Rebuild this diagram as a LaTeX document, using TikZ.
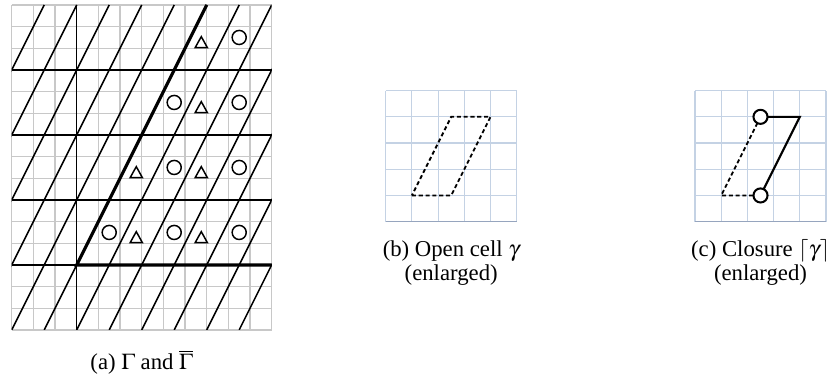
\documentclass[tikz,border=0pt]{standalone}
\usepackage{mathptmx}
\usepackage[no-math]{fontspec}
\setmainfont{Liberation Serif}
\usepackage{xcolor}
\usetikzlibrary{positioning}
\definecolor{latticegray}{RGB}{200,200,200}
\definecolor{paperblue}{RGB}{196,210,228}
\definecolor{paperedge}{RGB}{150,165,190}

\begin{document}
\begin{tikzpicture}[
    gridline/.style={draw=latticegray, line width=0.5pt, step=1},
    blueline/.style={draw=paperblue, line width=0.5pt, step=1},
    blueedge/.style={draw=paperedge, line width=0.6pt},
    cellline/.style={line width=0.65pt},
    boundary/.style={line width=1.4pt},
    marker/.style={line width=0.65pt},
    openedge/.style={line width=0.8pt, dash pattern=on 1.8pt off 1.2pt},
    closededge/.style={line width=0.95pt},
    ringmark/.style={line width=0.9pt, fill=white},
    caption/.style={align=center, anchor=base, inner sep=0pt, font=\fontsize{10}{10.6}\selectfont}
]
    \useasboundingbox (0,0) rectangle (365.2pt,166.3pt);

    % (a) the lattice and its closure
    \begin{scope}[shift={(5.15pt,21.12pt)}, x=9.533pt, y=9.533pt]
        \draw[gridline] (0,0) grid (12,15);
        \begin{scope}
            \clip (0,0) rectangle (12,15);
            \foreach \c in {-6,-4.5,...,10.5}
                \draw[cellline] (\c,0) -- ++(7.5,15);
        \end{scope}
        \foreach \y in {3,6,9,12}
            \draw[cellline] (0,\y) -- (12,\y);
        \draw[cellline] (3,0) -- (3,15);
        \draw[boundary] (9,15) -- (3,3) -- (12,3);

        % circles and triangles
        \foreach \x/\y in {4.5/4.5, 7.5/4.5, 10.5/4.5, 7.5/7.5, 10.5/7.5, 7.5/10.5, 10.5/10.5, 10.5/13.5}
            \draw[marker] (\x,\y) circle (3.1pt);
        \foreach \x/\y in {5.75/4.5, 8.75/4.5, 5.75/7.5, 8.75/7.5, 8.75/10.5, 8.75/13.5}
            \draw[marker] (\x,\y) ++(-2.7pt,-4.5pt) -- ++(5.4pt,0) -- ++(-2.7pt,4.85pt) -- cycle;

        \node[caption] (capa) at (6,-1.846) {(a) $\Gamma$ and $\overline{\Gamma}$};
    \end{scope}

    % (b) open cell
    \begin{scope}[shift={(169.7pt,68.77pt)}, x=11.53pt, y=11.53pt]
        \draw[blueline] (0,0) grid (5,5);
        \draw[blueedge] (0,0) -- (5,0);
        \draw[openedge] (1,1) -- (2.5,1) -- (4,4) -- (2.5,4) -- cycle;
        \node[caption] (capb) at (2.5,-2.252) {(b) Open cell $\gamma$\\(enlarged)};
    \end{scope}

    % (c) closure
    \begin{scope}[shift={(305.8pt,68.77pt)}, x=11.53pt, y=11.53pt]
        \draw[blueline] (0,0) grid (5,5);
        \draw[blueedge] (0,0) -- (5,0);
        \draw[openedge] (2.5,4) -- (1,1) -- (2.5,1);
        \draw[closededge] (2.5,1) -- (4,4) -- (2.5,4);
        \draw[ringmark] (2.5,1) circle (3.1pt);
        \draw[ringmark] (2.5,4) circle (3.1pt);
        \node[caption] (capc) at (2.5,-2.252) {(c) Closure $\lceil\gamma\rceil$\\(enlarged)};
    \end{scope}
\end{tikzpicture}
\end{document}
